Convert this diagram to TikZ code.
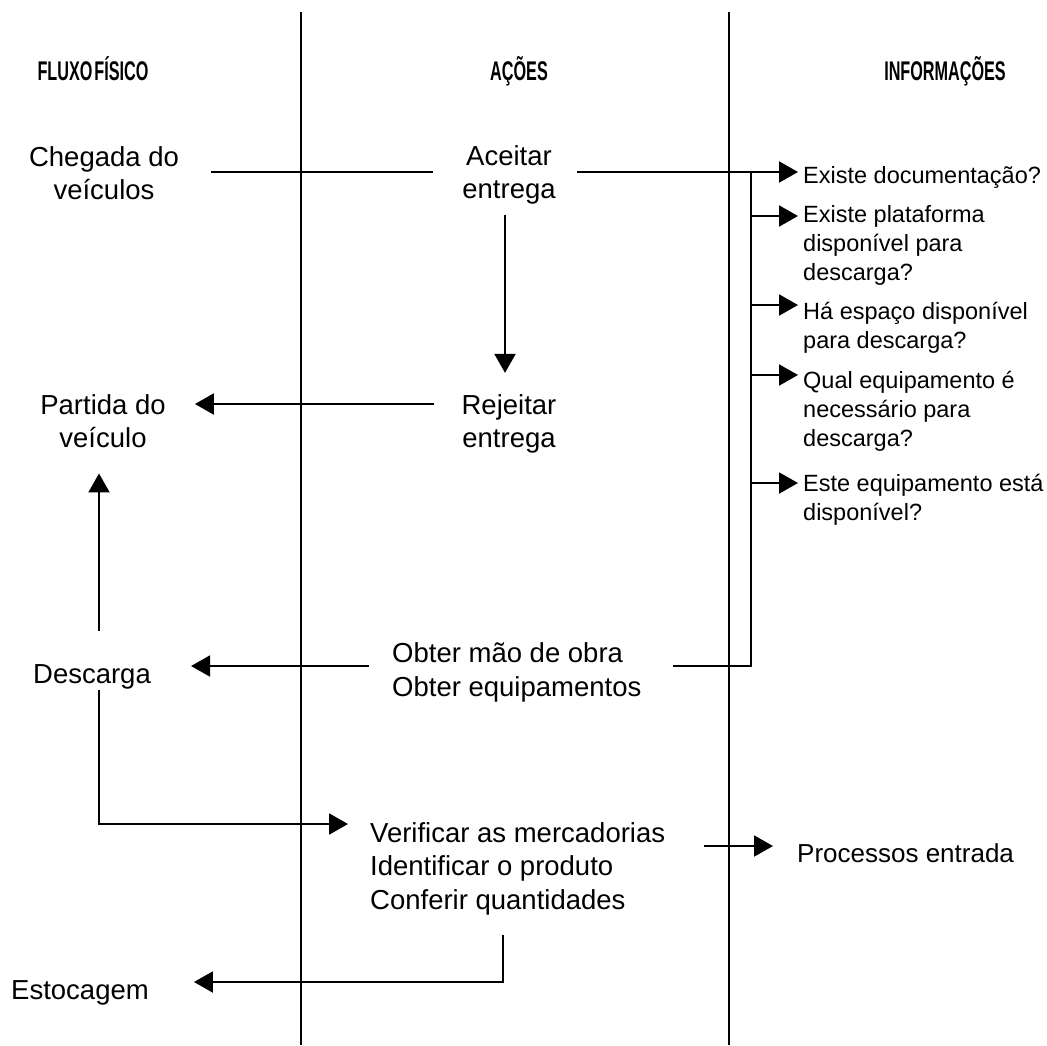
\documentclass[tikz,border=0pt]{standalone}
\usepackage{fontspec}
\setmainfont{Liberation Sans}
\newfontfamily\headfont[FakeStretch=0.6]{Liberation Sans Bold}
\usetikzlibrary{arrows.meta}

\begin{document}
\begin{tikzpicture}[x=1pt,y=-1pt,
  lane/.style={line width=2pt},
  conn/.style={line width=2pt},
  arr/.style={conn,-{Triangle[length=19pt,width=21pt]}},
  head/.style={font=\headfont\fontsize{27}{31}\selectfont, inner sep=0pt, anchor=base},
  big/.style={font=\fontsize{27.5}{33}\selectfont, inner sep=0pt, align=center, anchor=base},
  bigl/.style={font=\fontsize{27.5}{33.5}\selectfont, inner sep=0pt, align=left, anchor=base west},
  info/.style={font=\fontsize{23.5}{28.7}\selectfont, inner sep=0pt, align=left, anchor=base west},
]
\useasboundingbox (0,0) rectangle (1047,1045);

% swim-lane separators
\draw[lane] (301,12) -- (301,1045);
\draw[lane] (729,12) -- (729,1045);

% column headings
\node[head] (hfis)  at (93,80)  {FLUXO\hspace{2pt}FÍSICO};
\node[head] (hacao) at (519,80) {AÇÕES};
\node[head] (hinfo) at (945,80) {INFORMAÇÕES};

% physical flow (multi-line nodes are placed by the baseline of their last line)
\node[big] (chegada)   at (104,199) {Chegada do\\veículos};
\node[big] (partida)   at (103,447) {Partida do\\veículo};
\node[big] (descarga)  at (92,683)  {Descarga};
\node[bigl] (estocagem) at (11,999) {Estocagem};

% actions
\node[big] (aceitar)   at (509,198) {Aceitar\\entrega};
\node[big] (rejeitar)  at (509,447) {Rejeitar\\entrega};
\node[bigl] (obter)    at (392,696) {Obter mão de obra\\Obter equipamentos};
\node[bigl] (verificar) at (370,909) {Verificar as mercadorias\\Identificar o produto\\Conferir quantidades};

% information
\node[info] (q1) at (803,183) {Existe documentação?};
\node[info] (q2) at (803,280) {Existe plataforma\\disponível para\\descarga?};
\node[info] (q3) at (803,348) {Há espaço disponível\\para descarga?};
\node[info] (q4) at (803,446) {Qual equipamento é\\necessário para\\descarga?};
\node[info] (q5) at (803,520) {Este equipamento está\\disponível?};
\node[bigl, font=\fontsize{26}{31}\selectfont] (processos) at (797,862) {Processos entrada};

% collector line of the information column
\coordinate (bus) at (751,172);

% connectors
\draw[conn, shorten <=32pt, shorten >=29pt] (chegada.east |- 0,172) -- (aceitar.west |- 0,172);
\draw[arr, shorten <=21pt, shorten >=5pt] (aceitar.east |- 0,172) -- (q1.west |- 0,172);
\draw[arr, shorten <=11pt, shorten >=21pt] (aceitar.south -| 505,0) -- (rejeitar.north -| 505,0);
\draw[arr, shorten <=27pt, shorten >=29pt] (rejeitar.west |- 0,404) -- (partida.east |- 0,404);
\draw[arr, shorten <=33pt, shorten >=26pt] (descarga.north -| 99,0) -- (partida.south -| 99,0);
\draw[arr, shorten <=23pt, shorten >=40pt] (obter.west |- 0,666) -- (descarga.east |- 0,666);
\draw[arr, shorten <=1pt, shorten >=22pt] (descarga.south -| 99,0) |- (verificar.west |- 0,824);
\draw[arr, shorten <=39pt, shorten >=24pt] (verificar.east |- 0,846) -- (processos.west |- 0,846);
\draw[arr, shorten <=20pt, shorten >=45pt] (verificar.south -| 503,0) |- (estocagem.east |- 0,982);
\draw[conn, shorten <=31pt] (obter.east |- 0,666) -| (bus);
\foreach \q/\y in {q2/216, q3/305, q4/375, q5/483}
  \draw[arr, shorten >=5pt] (bus |- 0,\y) -- (\q.west |- 0,\y);
\end{tikzpicture}
\end{document}
